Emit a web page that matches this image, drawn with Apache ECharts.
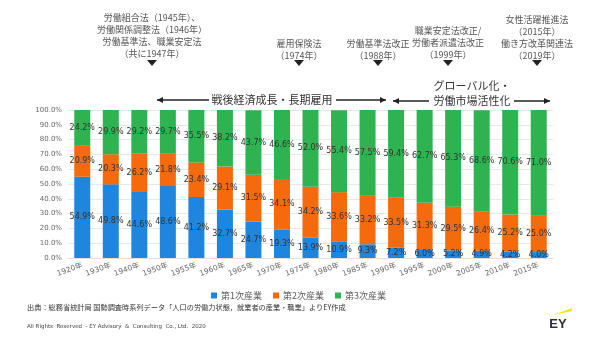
<!DOCTYPE html>
<html>
<head>
<meta charset="utf-8">
<script src="https://cdn.jsdelivr.net/npm/echarts@6/dist/echarts.min.js"></script>
<style>
  html, body { margin: 0; padding: 0; background: #fff; }
  #chart { width: 600px; height: 337px; }
</style>
</head>
<body>
<div id="chart"></div>
<script>
// 産業別就業者構成比の推移（国勢調査）
const years = ['1920年','1930年','1940年','1950年','1955年','1960年','1965年','1970年','1975年',
               '1980年','1985年','1990年','1995年','2000年','2005年','2010年','2015年'];
const primary   = [54.9, 49.8, 44.6, 48.6, 41.2, 32.7, 24.7, 19.3, 13.9, 10.9, 9.3, 7.2, 6.0, 5.2, 4.9, 4.2, 4.0];
const secondary = [20.9, 20.3, 26.2, 21.8, 23.4, 29.1, 31.5, 34.1, 34.2, 33.6, 33.2, 33.5, 31.3, 29.5, 26.4, 25.2, 25.0];
const tertiary  = [24.2, 29.9, 29.2, 29.7, 35.5, 38.2, 43.7, 46.6, 52.0, 55.4, 57.5, 59.4, 62.7, 65.3, 68.6, 70.6, 71.0];
const seriesNames = ['第1次産業', '第2次産業', '第3次産業'];
const yTicks = [0, 10, 20, 30, 40, 50, 60, 70, 80, 90, 100];

const JP = '"Noto Sans CJK JP", "Noto Sans", sans-serif';
const NUM = '"DejaVu Sans", "Noto Sans CJK JP", sans-serif';
const colors = ['#1f86df', '#f46a0c', '#2db34f'];

function barSeries(name, data, color) {
  return {
    name: name,
    type: 'bar',
    stack: 'total',
    barWidth: 16,
    data: data,
    itemStyle: { color: color },
    label: {
      show: true,
      position: 'inside',
      formatter: p => p.value.toFixed(1) + '%',
      fontFamily: NUM,
      fontSize: 8,
      color: '#333'
    }
  };
}

// 法制度の注記（上部）
function note(lines, x, yTop) {
  return {
    type: 'text',
    style: {
      x: x, y: yTop,
      text: lines.join('\n'),
      align: 'center',
      verticalAlign: 'top',
      font: '9px ' + JP,
      lineHeight: 12,
      fill: '#555'
    }
  };
}
function tri(x) {
  return {
    type: 'polygon',
    shape: { points: [[x - 5, 60], [x + 5, 60], [x, 66]] },
    style: { fill: '#222' }
  };
}
function arrow(x1, x2, y, dir) {
  const tip = dir < 0 ? x1 : x2;
  return [
    { type: 'line', shape: { x1: x1, y1: y, x2: x2, y2: y }, style: { stroke: '#222', lineWidth: 1.3 } },
    { type: 'polygon', shape: { points: [[tip, y], [tip - dir * 6, y - 3], [tip - dir * 6, y + 3]] }, style: { fill: '#222' } }
  ];
}
function txt(s, x, y, size, color, align) {
  return {
    type: 'text',
    style: { x: x, y: y, text: s, align: align || 'center', verticalAlign: 'middle',
             font: size + 'px ' + JP, fill: color }
  };
}

const chart = echarts.init(document.getElementById('chart'), null, { renderer: 'canvas' });
chart.setOption({
  animation: false,
  color: colors,
  grid: { left: 68, right: 47, top: 110, bottom: 79 },
  legend: {
    data: seriesNames,
    left: 206, top: 286,
    itemWidth: 6, itemHeight: 6, itemGap: 11,
    icon: 'rect',
    textStyle: { fontFamily: JP, fontSize: 9, color: '#595959', padding: [0, 0, 0, -1] }
  },
  xAxis: {
    type: 'category',
    data: years,
    axisTick: { show: false },
    axisLine: { lineStyle: { color: '#e0e0e0' } },
    axisLabel: {
      rotate: 20,
      margin: 7,
      fontFamily: NUM,
      fontSize: 7.5,
      color: '#666'
    }
  },
  yAxis: {
    type: 'value',
    min: yTicks[0], max: yTicks[yTicks.length - 1], interval: 10,
    axisLine: { show: false },
    axisTick: { show: false },
    splitLine: { lineStyle: { color: '#e8e8e8' } },
    axisLabel: {
      formatter: v => v.toFixed(1) + '%',
      margin: 6,
      fontFamily: NUM,
      fontSize: 7,
      color: '#666'
    }
  },
  series: [
    barSeries(seriesNames[0], primary, colors[0]),
    barSeries(seriesNames[1], secondary, colors[1]),
    barSeries(seriesNames[2], tertiary, colors[2])
  ],
  graphic: [
    note(['労働組合法（1945年）、', '労働関係調整法（1946年）', '労働基準法、職業安定法', '（共に1947年）'], 152, 12),
    tri(152),
    note(['雇用保険法', '（1974年）'], 299, 38),
    tri(299),
    note(['労働基準法改正', '（1988年）'], 378, 38),
    tri(378),
    note(['職業安定法改正/', '労働者派遣法改正', '（1999年）'], 448, 25),
    tri(448),
    note(['女性活躍推進法', '（2015年）', '働き方改革関連法', '（2019年）'], 537, 14),
    tri(537),
    txt('戦後経済成長・長期雇用', 272, 100, 11, '#333'),
    ...arrow(157, 209, 100, -1),
    ...arrow(336, 386, 100, 1),
    txt('グローバル化・', 472, 86, 11, '#333'),
    txt('労働市場活性化', 472, 101, 11, '#333'),
    ...arrow(393, 429, 101, -1),
    ...arrow(514, 550, 101, 1),
    txt('出典：総務省統計局 国勢調査時系列データ「人口の労働力状態，就業者の産業・職業」よりEY作成', 27, 307, 7.2, '#333', 'left'),
    {
      type: 'text',
      style: { x: 27, y: 327, text: 'All Rights  Reserved  - EY Advisory  &  Consulting  Co., Ltd.  2020',
               align: 'left', verticalAlign: 'middle', font: '5.5px "DejaVu Sans", sans-serif', fill: '#444' }
    },
    {
      type: 'polygon',
      shape: { points: [[553, 315], [572, 308], [572, 311]] },
      style: { fill: '#ffe600' }
    },
    {
      type: 'text',
      style: { x: 558, y: 324, text: 'EY', align: 'center', verticalAlign: 'middle',
               font: 'bold 13px "Liberation Sans", Arial, sans-serif', fill: '#2e2e38' }
    }
  ]
});
</script>
</body>
</html>
